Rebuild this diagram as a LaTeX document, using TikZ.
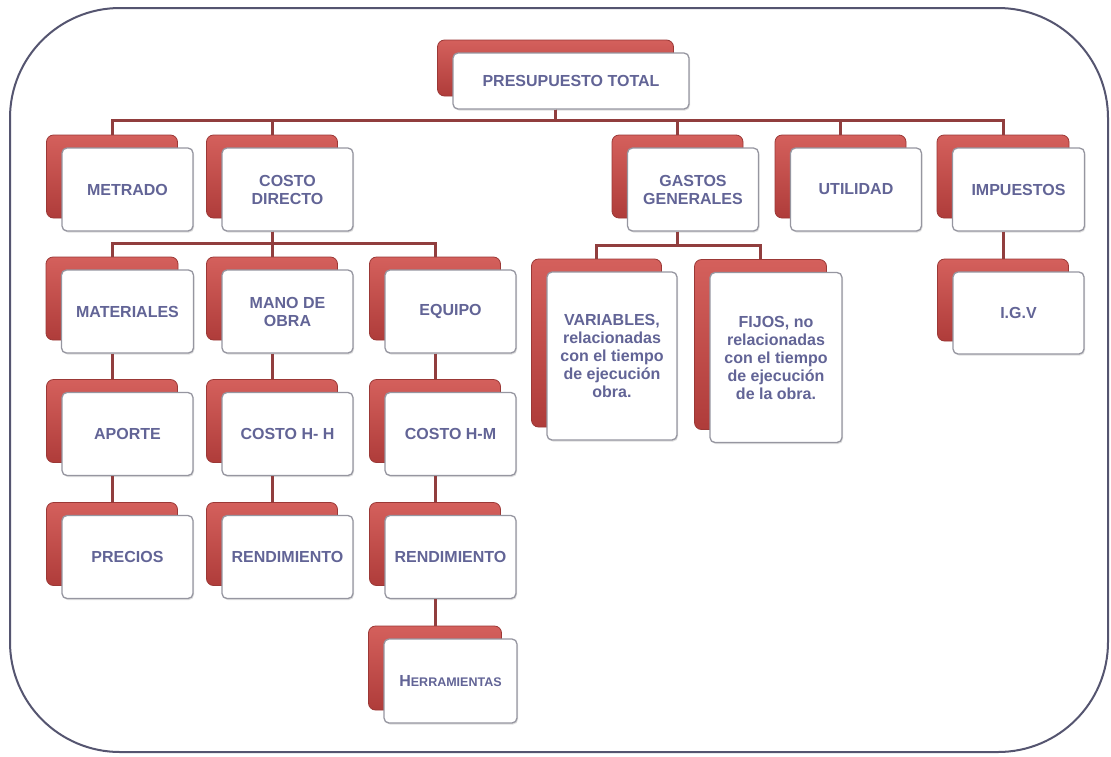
\documentclass[tikz,border=0pt]{standalone}
\usepackage{fontspec}
\setmainfont{Liberation Sans}
\usetikzlibrary{calc,shadows}
\definecolor{backtop}{RGB}{212,96,92}
\definecolor{backbot}{RGB}{175,60,58}
\definecolor{backedge}{RGB}{155,56,54}
\definecolor{frontedge}{RGB}{150,150,160}
\definecolor{txtcol}{RGB}{98,100,150}
\definecolor{conncol}{RGB}{145,62,62}
\definecolor{framecol}{RGB}{85,85,112}
\tikzset{
  backcard/.style={draw=backedge, line width=0.8pt, top color=backtop, bottom color=backbot,
    rounded corners=7pt, inner sep=0pt},
  frontcard/.style={draw=frontedge, line width=1.3pt, fill=white, rounded corners=5pt,
    inner sep=2pt, align=center, text=txtcol,
    font=\bfseries\fontsize{16}{18}\selectfont,
    drop shadow={shadow xshift=1pt, shadow yshift=-1.5pt, opacity=0.25}},
  conn/.style={draw=conncol, line width=3pt},
  outerframe/.style={draw=framecol, line width=2pt, rounded corners=110pt}
}
\newcommand\mkcard[6]{%
  \node[backcard, minimum width=#4pt, minimum height=#5pt] (#1b) at ({#2-15.5},{#3-13}) {};
  \node[frontcard, minimum width=#4pt, minimum height=#5pt] (#1f) at (#2,#3) {#6};
}
\begin{document}
\begin{tikzpicture}[x=1pt,y=-1pt]
\useasboundingbox (0,0) rectangle (1111,756);
\fill[white] (0,0) rectangle (1111,756);
\draw[outerframe] (10,8) rectangle (1108,752);

\mkcard{top}{571}{81}{236}{56}{PRESUPUESTO TOTAL}
\mkcard{met}{127.5}{189.5}{131}{83}{METRADO}
\mkcard{cd}{287.5}{189.5}{131}{83}{COSTO\\DIRECTO}
\mkcard{gg}{693}{189.5}{131}{83}{GASTOS\\GENERALES}
\mkcard{ut}{856}{189.5}{131}{83}{UTILIDAD}
\mkcard{imp}{1018.5}{189.5}{132}{83}{IMPUESTOS}
\mkcard{mat}{127.5}{311.5}{132}{83}{MATERIALES}
\mkcard{mo}{287.5}{311.5}{131}{83}{MANO DE\\OBRA}
\mkcard{eq}{450.5}{311.5}{131}{83}{EQUIPO}
\mkcard{var}{612}{356}{130}{168}{VARIABLES,\\relacionadas\\con el tiempo\\de ejecución\\obra.}
\mkcard{fij}{776}{357.5}{132}{170}{FIJOS, no\\relacionadas\\con el tiempo\\de ejecución\\de la obra.}
\mkcard{igv}{1018.5}{313}{131}{82}{I.G.V}
\mkcard{apo}{127.5}{434}{131}{83}{APORTE}
\mkcard{chh}{287.5}{434}{131}{83}{COSTO H- H}
\mkcard{chm}{450.5}{434}{131}{83}{COSTO H-M}
\mkcard{pre}{127.5}{557}{131}{83}{PRECIOS}
\mkcard{renA}{287.5}{557}{131}{83}{RENDIMIENTO}
\mkcard{renB}{450.5}{557}{131}{83}{RENDIMIENTO}
\mkcard{her}{450.5}{681}{133}{84}{H{\fontsize{12.5}{15}\selectfont ERRAMIENTAS}}

\coordinate (busA) at (0,120);
\coordinate (busB) at (0,243);
\coordinate (busC) at (0,245);
\foreach \ch in {met,cd,gg,ut,imp}
  \draw[conn] (topb |- topf.south) -- (topb |- busA) -| (\ch b.north);
\foreach \ch in {mat,mo,eq}
  \draw[conn] (cdb |- cdf.south) -- (cdb |- busB) -| (\ch b.north);
\foreach \ch in {var,fij}
  \draw[conn] (ggb |- ggf.south) -- (ggb |- busC) -| (\ch b.north);
\draw[conn] (impb |- impf.south) -- (igvb.north);
\draw[conn] (matb |- matf.south) -- (apob.north);
\draw[conn] (apob |- apof.south) -- (preb.north);
\draw[conn] (mob |- mof.south) -- (chhb.north);
\draw[conn] (chhb |- chhf.south) -- (renAb.north);
\draw[conn] (eqb |- eqf.south) -- (chmb.north);
\draw[conn] (chmb |- chmf.south) -- (renBb.north);
\draw[conn] (renBb |- renBf.south) -- (herb.north);
\end{tikzpicture}
\end{document}
